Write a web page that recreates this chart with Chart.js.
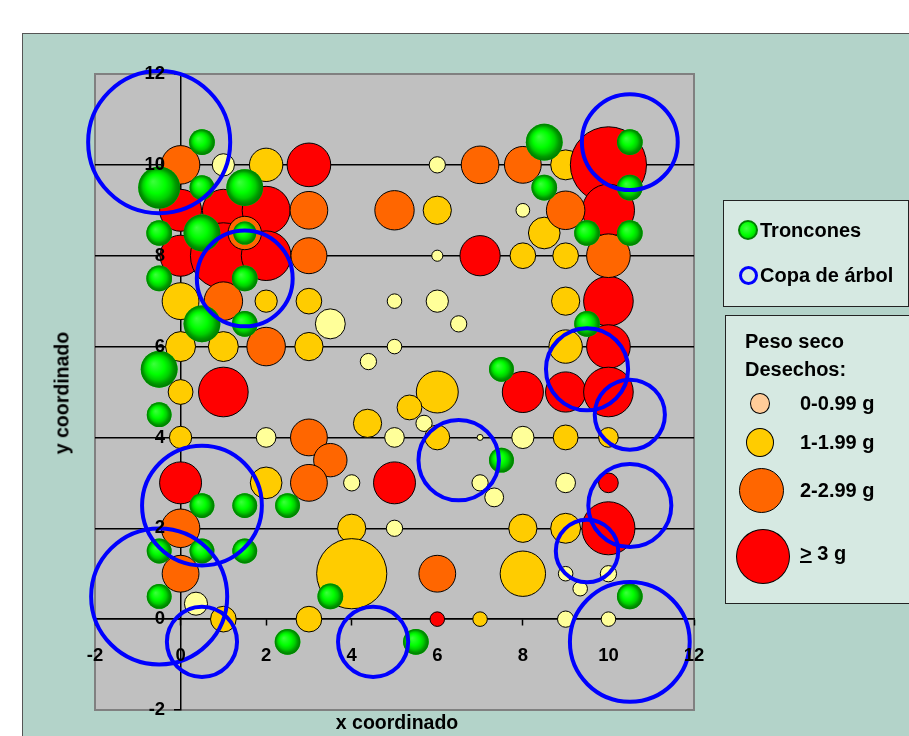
<!DOCTYPE html>
<html>
<head>
<meta charset="utf-8">
<script src="https://cdn.jsdelivr.net/npm/chart.js@4/dist/chart.umd.min.js"></script>
<style>
  body { margin: 0; background: #fff; width: 909px; height: 736px; overflow: hidden; position: relative;
         font-family: "Liberation Sans", Arial, sans-serif; }
  #frame { position: absolute; left: 22px; top: 33px; width: 900px; height: 720px;
           background: #b3d3c9; border: 1px solid #555; }
  #chart { position: absolute; left: 0; top: 0; }
  .txt { position: absolute; font-weight: bold; color: #000; white-space: nowrap; }
  .box { position: absolute; background: #d6e9e2; border: 1px solid #222; }
  .dot { position: absolute; border-radius: 50%; box-sizing: border-box; }
</style>
</head>
<body>
<div id="frame"></div>
<canvas id="chart" width="909" height="736"></canvas>

<div class="txt" style="left:62px;top:393px;font-size:19.5px;transform:translate(-50%,-50%) rotate(-90deg);">y coordinado</div>
<div class="txt" style="left:397px;top:722px;font-size:19.5px;transform:translate(-50%,-50%);">x coordinado</div>

<div class="box" style="left:723px;top:200px;width:184px;height:105px;"></div>
<div class="dot" style="left:738px;top:220px;width:20px;height:20px;border:2px solid #008000;background:radial-gradient(circle at 40% 40%,#40ff40 0%,#00ff00 50%,#00b000 100%);"></div>
<div class="txt" style="left:760px;top:218px;font-size:20px;line-height:24px;">Troncones</div>
<div class="dot" style="left:739px;top:266px;width:19px;height:19px;border:3.5px solid #0000ff;"></div>
<div class="txt" style="left:760px;top:263px;font-size:20px;line-height:24px;">Copa de árbol</div>

<div class="box" style="left:725px;top:315px;width:200px;height:287px;"></div>
<div class="txt" style="left:745px;top:329px;font-size:20px;line-height:24px;">Peso seco</div>
<div class="txt" style="left:745px;top:357px;font-size:20px;line-height:24px;">Desechos:</div>
<div class="dot" style="left:750px;top:393px;width:20px;height:21px;background:#ffcc99;border:1px solid #000;"></div>
<div class="txt" style="left:800px;top:391px;font-size:20px;line-height:24px;">0-0.99 g</div>
<div class="dot" style="left:746px;top:428px;width:28px;height:29px;background:#ffcc00;border:1px solid #000;"></div>
<div class="txt" style="left:800px;top:430px;font-size:20px;line-height:24px;">1-1.99 g</div>
<div class="dot" style="left:739px;top:468px;width:45px;height:45px;background:#ff6600;border:1px solid #000;"></div>
<div class="txt" style="left:800px;top:478px;font-size:20px;line-height:24px;">2-2.99 g</div>
<div class="dot" style="left:736px;top:529px;width:54px;height:55px;background:#ff0000;border:1px solid #000;"></div>
<div class="txt" style="left:800px;top:541px;font-size:20px;line-height:24px;"><u>&gt;</u> 3 g</div>

<script>
// x, y, bubble radius (in x-axis units)
const pale = [
  [1, 10, 0.26], [6, 10, 0.19], [8, 9, 0.16], [6, 8, 0.13], [5, 7, 0.17], [6, 7, 0.26],
  [3.5, 6.5, 0.35], [6.5, 6.5, 0.19], [5, 6, 0.17], [4.39, 5.67, 0.19], [5.69, 4.31, 0.19],
  [2, 4, 0.23], [5, 4, 0.23], [7, 4, 0.07], [8, 4, 0.26], [4, 3, 0.19], [7, 3, 0.19],
  [9, 3, 0.23], [7.33, 2.68, 0.22], [5, 2, 0.19], [9, 1, 0.17], [10, 1, 0.19],
  [9.34, 0.67, 0.17], [0.36, 0.34, 0.27], [9, 0, 0.19], [10, 0, 0.17]
];
const gold = [
  [2, 10, 0.39], [9, 10, 0.35], [6, 9, 0.33], [8.5, 8.5, 0.37], [8, 8, 0.30], [9, 8, 0.30],
  [0, 7, 0.43], [2, 7, 0.26], [3, 7, 0.30], [9, 7, 0.33], [0, 6, 0.35], [1, 6, 0.35],
  [3, 6, 0.33], [9, 6, 0.39], [0, 5, 0.29], [6, 5, 0.49], [5.35, 4.66, 0.29], [4.37, 4.31, 0.33],
  [0, 4, 0.26], [6, 4, 0.29], [9, 4, 0.29], [10, 4, 0.23], [2, 3, 0.37], [4, 2, 0.33],
  [8, 2, 0.33], [9, 2, 0.35], [4, 1, 0.82], [8, 1, 0.53], [1, 0, 0.30], [3, 0, 0.30], [7, 0, 0.17]
];
const orange = [
  [0, 10, 0.45], [7, 10, 0.44], [8, 10, 0.43], [3, 9, 0.44], [5, 9, 0.46], [9, 9, 0.45],
  [1.5, 8.5, 0.39], [3, 8, 0.42], [10, 8, 0.51], [1, 7, 0.45], [2, 6, 0.45], [3, 4, 0.43],
  [3.5, 3.5, 0.39], [3, 3, 0.43], [0, 2, 0.45], [0, 1, 0.43], [6, 1, 0.43]
];
const red = [
  [3, 10, 0.51], [10, 10, 0.89], [0, 9, 0.49], [1, 9, 0.49], [2, 9, 0.56], [10, 9, 0.61],
  [0, 8, 0.48], [1, 8, 0.77], [2, 8, 0.58], [7, 8, 0.47], [10, 7, 0.58], [10, 6, 0.51],
  [1, 5, 0.58], [8, 5, 0.48], [9, 5, 0.47], [10, 5, 0.58], [0, 3, 0.49], [5, 3, 0.49],
  [10, 3, 0.23], [10, 2, 0.62], [6, 0, 0.17]
];
const trunks = [
  [0.5, 10.5, 0.30], [-0.5, 9.5, 0.49], [0.5, 9.5, 0.29], [1.5, 9.5, 0.43], [-0.5, 8.5, 0.30],
  [0.5, 8.5, 0.43], [1.5, 8.5, 0.27], [-0.5, 7.5, 0.30], [1.5, 7.5, 0.30], [1.5, 6.5, 0.30],
  [0.5, 6.5, 0.43], [-0.5, 5.5, 0.43], [-0.5, 4.5, 0.29], [0.5, 2.5, 0.29], [1.5, 2.5, 0.29],
  [2.5, 2.5, 0.29], [-0.5, 1.5, 0.29], [0.5, 1.5, 0.29], [1.5, 1.5, 0.29], [-0.5, 0.5, 0.29],
  [3.5, 0.5, 0.30], [2.5, -0.5, 0.30], [5.5, -0.5, 0.30], [8.5, 10.5, 0.43], [10.5, 10.5, 0.30],
  [8.5, 9.5, 0.30], [10.5, 9.5, 0.30], [9.5, 8.5, 0.30], [10.5, 8.5, 0.30], [9.5, 6.5, 0.30],
  [7.5, 5.5, 0.29], [7.5, 3.5, 0.29], [10.5, 0.5, 0.30]
];
const crowns = [
  [-0.5, 10.5, 1.66], [1.5, 7.5, 1.12], [10.5, 10.5, 1.12], [9.5, 5.5, 0.96], [10.5, 4.5, 0.82],
  [6.5, 3.5, 0.94], [10.5, 2.5, 0.97], [0.5, 2.5, 1.40], [9.5, 1.5, 0.73], [-0.5, 0.5, 1.59],
  [0.5, -0.5, 0.82], [4.5, -0.5, 0.82], [10.5, -0.5, 1.40]
];
const xTicks = [-2, 0, 2, 4, 6, 8, 10, 12];

function toPoints(list) {
  return list.map(function (p) { return { x: p[0], y: p[1], s: p[2] }; });
}

const plotBg = {
  id: "plotBg",
  beforeDraw(chart) {
    var a = chart.chartArea, ctx = chart.ctx;
    ctx.save();
    ctx.fillStyle = "#c0c0c0";
    ctx.fillRect(a.left, a.top, a.width, a.height);
    ctx.strokeStyle = "#808080";
    ctx.lineWidth = 2;
    ctx.strokeRect(a.left, a.top, a.width, a.height);
    ctx.restore();
  }
};

// shaded look for the trunk balls
const trunkShade = {
  id: "trunkShade",
  afterDatasetDraw(chart, args) {
    if (args.meta.label !== "Troncones") return;
    var ctx = chart.ctx;
    ctx.save();
    args.meta.data.forEach(function (el) {
      var r = el.options.radius;
      if (!(r > 0)) return;
      var g = ctx.createRadialGradient(el.x - r * 0.3, el.y - r * 0.3, 0, el.x, el.y, r);
      g.addColorStop(0, "#3dff3d");
      g.addColorStop(0.45, "#00ff00");
      g.addColorStop(0.68, "#00d000");
      g.addColorStop(0.84, "#009a00");
      g.addColorStop(1, "#007800");
      ctx.fillStyle = g;
      ctx.beginPath();
      ctx.arc(el.x, el.y, r, 0, Math.PI * 2);
      ctx.fill();
    });
    ctx.restore();
  }
};

const tickFont = { family: "'Liberation Sans', Arial, sans-serif", size: 18.5, weight: "bold" };

function bubbleSet(label, list, color, order) {
  return {
    label: label,
    data: toPoints(list),
    backgroundColor: color,
    borderColor: "#000",
    borderWidth: 1,
    order: order
  };
}

var chart = new Chart(document.getElementById("chart"), {
  type: "bubble",
  data: {
    datasets: [
      bubbleSet("0-0.99 g", pale, "#ffff99", 6),
      bubbleSet("1-1.99 g", gold, "#ffcc00", 5),
      bubbleSet(">= 3 g", red, "#ff0000", 4),
      bubbleSet("2-2.99 g", orange, "#ff6600", 3),
      {
        label: "Troncones",
        data: toPoints(trunks),
        backgroundColor: "#00ff00",
        borderWidth: 0,
        order: 2
      },
      {
        label: "Copa de árbol",
        data: toPoints(crowns),
        backgroundColor: "rgba(0,0,0,0)",
        borderColor: "#0000ff",
        borderWidth: 4,
        order: 1
      }
    ]
  },
  options: {
    responsive: false,
    animation: false,
    events: [],
    clip: false,
    layout: { autoPadding: false, padding: { left: 95, top: 74, right: 215, bottom: 26 } },
    plugins: { legend: { display: false }, tooltip: { enabled: false } },
    scales: {
      x: {
        type: "linear",
        min: -2, max: 12,
        position: { y: 0 },
        afterBuildTicks: function (s) { s.ticks = xTicks.map(function (v) { return { value: v }; }); },
        grid: { drawOnChartArea: false, drawTicks: true, tickLength: 6, tickColor: "#000", tickWidth: 1.5 },
        border: { color: "#000", width: 1.5 },
        ticks: { font: tickFont, color: "#000", padding: 20, z: 1, maxRotation: 0, autoSkip: false }
      },
      y: {
        type: "linear",
        min: -2, max: 12,
        position: { x: 0 },
        ticks: {
          stepSize: 2, font: tickFont, color: "#000", z: 1, autoSkip: false,
          callback: function (v) { return v + "   "; }
        },
        grid: {
          color: function (c) { return (c.tick && c.tick.value > -2 && c.tick.value < 12) ? "#000" : "rgba(0,0,0,0)"; },
          lineWidth: 1.5,
          tickLength: 6, tickColor: "#000", tickWidth: 1.5
        },
        border: { color: "#000", width: 1.5 }
      }
    }
  },
  plugins: [plotBg, trunkShade]
});

// bubble radius in pixels follows the x scale once it is laid out
var xs = chart.scales.x;
chart.data.datasets.forEach(function (ds) {
  ds.data = ds.data.map(function (p) {
    return { x: p.x, y: p.y, s: p.s, r: Math.abs(xs.getPixelForValue(p.s) - xs.getPixelForValue(0)) };
  });
});
chart.update();
</script>
</body>
</html>
